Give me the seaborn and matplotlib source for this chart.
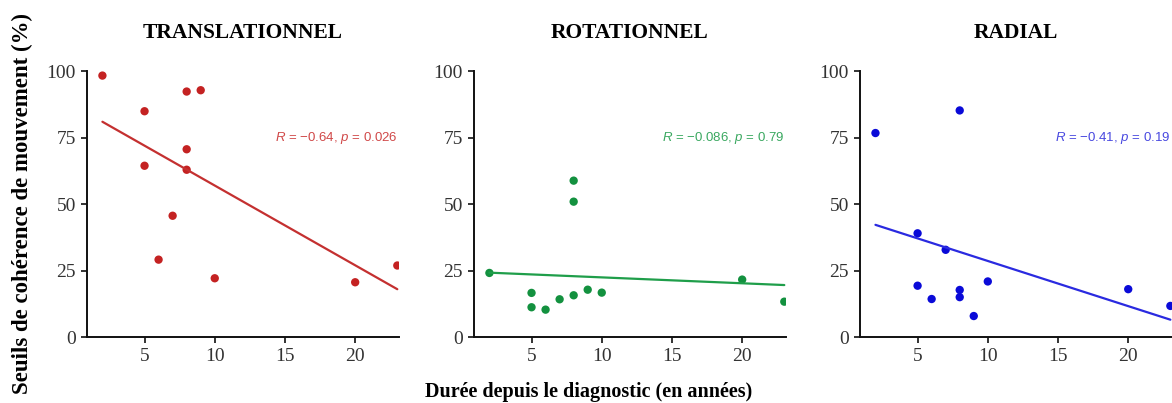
import pandas as pd
import seaborn as sns
import matplotlib
matplotlib.use("Agg")
import matplotlib.pyplot as plt

sns.set_style("ticks")
plt.rcParams['font.family'] = ['Liberation Serif', 'DejaVu Serif']
plt.rcParams['text.color'] = 'black'
plt.rcParams['mathtext.fontset'] = 'custom'
plt.rcParams['mathtext.rm'] = 'Liberation Sans'
plt.rcParams['mathtext.it'] = 'Liberation Sans:italic'

# Durée depuis le diagnostic (années)
x_trans = [2, 5, 5, 8, 9, 8, 8, 7, 6, 10, 20, 23]
y_trans = [98.4, 85.0, 64.5, 92.4, 92.9, 70.7, 63.0, 45.7, 29.2, 22.2, 20.7, 27.0]

x_rot = [2, 5, 5, 6, 7, 8, 8, 8, 9, 10, 20, 23]
y_rot = [24.2, 16.7, 11.3, 10.4, 14.3, 58.9, 51.0, 15.8, 17.9, 16.8, 21.7, 13.4]

x_rad = [2, 5, 5, 6, 7, 8, 8, 8, 9, 10, 20, 23]
y_rad = [76.8, 39.1, 19.4, 14.4, 32.9, 85.3, 17.8, 15.1, 8.0, 21.0, 18.1, 11.8]

titles = ["TRANSLATIONNEL", "ROTATIONNEL", "RADIAL"]
stats = [r"$R$ = −0.64, $p$ = 0.026", r"$R$ = −0.086, $p$ = 0.79", r"$R$ = −0.41, $p$ = 0.19"]
dot_colors = ["#c42222", "#13913f", "#0a0ad8"]
line_colors = ["#c43030", "#1f9e4a", "#2a2ae0"]
text_colors = ["#d04848", "#3aa860", "#4848e0"]
yticks = [0, 25, 50, 75, 100]
xticks = [5, 10, 15, 20]

panels = [
    pd.DataFrame({"duree": x_trans, "seuil": y_trans}),
    pd.DataFrame({"duree": x_rot, "seuil": y_rot}),
    pd.DataFrame({"duree": x_rad, "seuil": y_rad}),
]

fig = plt.figure(figsize=(11.72, 4.03), dpi=100)
lefts = [0.0742, 0.4044, 0.7338]

for i, df in enumerate(panels):
    ax = fig.add_axes([lefts[i], 0.163, 0.266, 0.660])
    sns.regplot(data=df, x="duree", y="seuil", ax=ax, ci=None,
                scatter_kws=dict(s=36, color=dot_colors[i], edgecolor="none", alpha=1),
                line_kws=dict(color=line_colors[i], lw=1.6))
    ax.set_xlim(0.9, 23.1)
    ax.set_ylim(0, 100)
    ax.set_xticks(xticks)
    ax.set_yticks(yticks)
    ax.set_xlabel("")
    ax.set_ylabel("")
    sns.despine(ax=ax)
    for s in ["left", "bottom"]:
        ax.spines[s].set_linewidth(1.4)
        ax.spines[s].set_color("#111111")
    ax.tick_params(labelsize=14, colors="#111111", labelcolor="#333333",
                   length=4, width=1.2, pad=4)
    ax.set_title(titles[i], fontsize=15.5, fontweight="bold", pad=24, color="black")
    ax.text(0.995, 75, stats[i], transform=ax.get_yaxis_transform(),
            ha="right", va="center", fontsize=9.5, color=text_colors[i],
            family=["Liberation Sans", "DejaVu Sans"])

fig.text(0.019, 0.494, "Seuils de cohérence de mouvement (%)", rotation=90,
         ha="center", va="center", fontsize=16.5, fontweight="bold")
fig.text(0.502, 0.027, "Durée depuis le diagnostic (en années)",
         ha="center", va="center", fontsize=14.5, fontweight="bold")

fig.savefig("out.png", dpi=100)
